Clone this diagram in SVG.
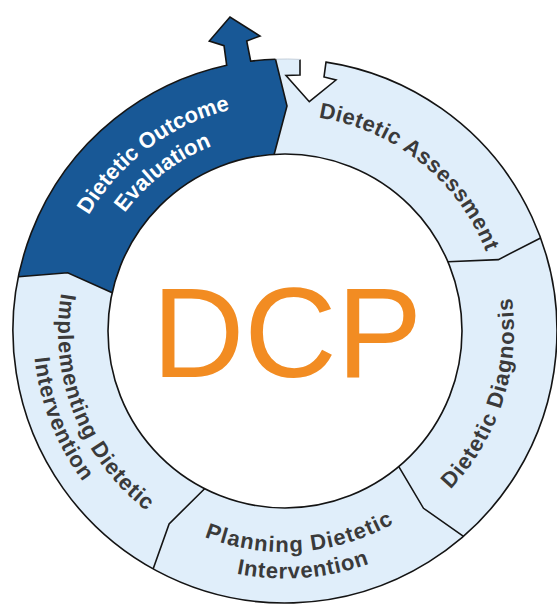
<svg xmlns="http://www.w3.org/2000/svg" xmlns:xlink="http://www.w3.org/1999/xlink" width="557" height="604" viewBox="0 0 557 604">
<style>
.seg{fill:#e0eefa;stroke:none}
.segdark{fill:#185896;stroke:none}
.line{fill:none;stroke:#141414;stroke-width:1.6;stroke-linejoin:miter}
.lbl{font-family:"Liberation Sans",Arial,sans-serif;font-weight:bold;font-size:22px;fill:#3a3a3a}
.lblw{font-family:"Liberation Sans",Arial,sans-serif;font-weight:bold;font-size:22px;fill:#ffffff}
.dcp{font-family:"Liberation Sans",Arial,sans-serif;font-size:128px;fill:#f28c22}
</style>
<defs>
<path id="pAss" d="M 206.7,129.7 A 216 216 0 0 1 498.5,363.9"/>
<path id="pDia" d="M 334.2,554.7 A 229 229 0 0 0 454.1,176.6"/>
<path id="pPl1" d="M 102.2,455.2 A 221 221 0 0 0 484,427.2"/>
<path id="pPl2" d="M 80.8,470.8 A 247.5 247.5 0 0 0 508.2,438"/>
<path id="pIm1" d="M 107.4,189.7 A 227 227 0 0 0 251.4,555.5"/>
<path id="pIm2" d="M 87.8,174.1 A 252 252 0 0 0 247.8,580.2"/>
<path id="pEv1" d="M 58.6,357.6 A 228 228 0 0 1 375.2,121.6"/>
<path id="pEv2" d="M 87.8,357.4 A 199 199 0 0 1 360.8,147"/>
</defs>
<rect width="557" height="604" fill="#ffffff"/>

<g id="node-evaluation">
<path class="segdark" d="M 18.5,276.8 A 272 272 0 0 1 226.7,65.3 L 224,45.7 L 209.3,41 L 230,17 L 260,36 L 246.7,41 L 250.7,61.2 A 272 272 0 0 1 275.5,59.2 L 287,106 L 274.2,154.3 A 177 177 0 0 0 112.2,292.7 L 67.7,272.8 Z"/>
<text class="lblw"><textPath xlink:href="#pEv1" href="#pEv1" startOffset="50%" text-anchor="middle">Dietetic Outcome</textPath></text>
<text class="lblw"><textPath xlink:href="#pEv2" href="#pEv2" startOffset="50%" text-anchor="middle">Evaluation</textPath></text>
</g>

<g id="node-assessment">
<path class="seg" d="M 275.5,59.2 A 272 272 0 0 1 300,59.4 L 300,75 L 286,75.5 L 309.3,101.7 L 336,80 L 324,77 L 326,62.1 A 272 272 0 0 1 540.6,238 L 498.4,259.6 L 447.9,261.8 A 177 177 0 0 0 274.2,154.3 L 287,106 Z"/>
<text class="lbl" letter-spacing="0.55"><textPath xlink:href="#pAss" href="#pAss" startOffset="50%" text-anchor="middle">Dietetic Assessment</textPath></text>
</g>

<g id="node-diagnosis">
<path class="seg" d="M 540.6,238 A 272 272 0 0 1 463.5,536.3 L 423.5,508.3 L 398.8,466.6 A 177 177 0 0 0 447.9,261.8 L 498.4,259.6 Z"/>
<text class="lbl" letter-spacing="1"><textPath xlink:href="#pDia" href="#pDia" startOffset="50%" text-anchor="middle">Dietetic Diagnosis</textPath></text>
</g>

<g id="node-planning">
<path class="seg" d="M 463.5,536.3 A 272 272 0 0 1 153.1,568.9 L 169.1,523.9 L 204.6,488.7 A 177 177 0 0 0 398.8,466.6 L 423.5,508.3 Z"/>
<text class="lbl" letter-spacing="1.1"><textPath xlink:href="#pPl1" href="#pPl1" startOffset="50%" text-anchor="middle">Planning Dietetic</textPath></text>
<text class="lbl" letter-spacing="0.8"><textPath xlink:href="#pPl2" href="#pPl2" startOffset="50%" text-anchor="middle">Intervention</textPath></text>
</g>

<g id="node-implementing">
<path class="seg" d="M 153.1,568.9 A 272 272 0 0 1 18.5,276.8 L 67.7,272.8 L 112.2,292.7 A 177 177 0 0 0 204.6,488.7 L 169.1,523.9 Z"/>
<text class="lbl" letter-spacing="0.85"><textPath xlink:href="#pIm1" href="#pIm1" startOffset="50%" text-anchor="middle">Implementing Dietetic</textPath></text>
<text class="lbl" letter-spacing="0.77"><textPath xlink:href="#pIm2" href="#pIm2" startOffset="50%" text-anchor="middle">Intervention</textPath></text>
</g>

<g id="connectors">
<path class="line" d="M 300,59.4 L 300,75 L 286,75.5 L 309.3,101.7 L 336,80 L 324,77 L 326,62.1 A 272 272 0 1 1 226.7,65.3 L 224,45.7 L 209.3,41 L 230,17 L 260,36 L 246.7,41 L 250.7,61.2 A 272 272 0 0 1 275.5,59.2"/>
<path d="M 275.5,59.2 A 272 272 0 0 1 300,59.4" fill="none" stroke="#c4cfda" stroke-width="1"/>
<circle class="line" cx="285" cy="331" r="177"/>
<polyline class="line" points="275.5,59.2 287,106 274.2,154.3"/>
<polyline class="line" points="540.6,238 498.4,259.6 447.9,261.8"/>
<polyline class="line" points="463.5,536.3 423.5,508.3 398.8,466.6"/>
<polyline class="line" points="153.1,568.9 169.1,523.9 204.6,488.7"/>
<polyline class="line" points="18.5,276.8 67.7,272.8 112.2,292.7"/>
</g>

<g id="node-center">
<text class="dcp" x="287" y="377" text-anchor="middle">DCP</text>
</g>
</svg>
